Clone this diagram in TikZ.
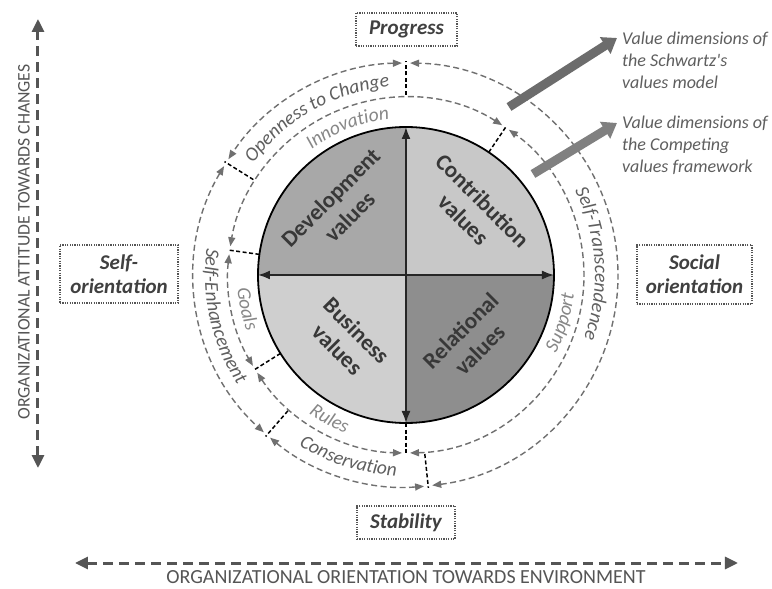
\documentclass[tikz,border=0pt]{standalone}
\usepackage{fontspec}
\setmainfont{Carlito}
\usepackage{xcolor}
\usepackage{tikz}
\usetikzlibrary{arrows.meta, decorations.text}
\definecolor{ringgray}{RGB}{112,112,112}
\definecolor{labeldark}{RGB}{95,95,95}
\definecolor{labellight}{RGB}{135,135,135}
\definecolor{boxtext}{RGB}{64,64,64}
\definecolor{axisgray}{RGB}{85,85,85}
\definecolor{devfill}{RGB}{168,168,168}
\definecolor{confill}{RGB}{200,200,200}
\definecolor{busfill}{RGB}{207,207,207}
\definecolor{relfill}{RGB}{142,142,142}
\definecolor{schwartzarrow}{RGB}{108,108,108}
\definecolor{cvfarrow}{RGB}{128,128,128}
\tikzset{
    ring/.style={draw=ringgray, line width=1.4pt, dash pattern=on 6pt off 3.5pt, <->, >={Triangle[length=9pt, width=7pt]}},
    divider/.style={draw=black, line width=1.5pt, dash pattern=on 4pt off 2.5pt},
    crossarrow/.style={draw=black!85, line width=1.8pt, <->, >={Latex[length=12pt, width=9pt]}},
    axis/.style={draw=axisgray, line width=3pt, dash pattern=on 10pt off 6pt, <->, >={Triangle[length=13pt, width=12pt]}},
    axislabel/.style={text=axisgray, font=\fontsize{20}{22}\selectfont},
    dimbox/.style={rectangle, draw=axisgray, line width=1.2pt, dash pattern=on 1.2pt off 1.2pt, text=boxtext, font=\bfseries\itshape\fontsize{21}{24}\selectfont, align=center, inner sep=0pt},
    quadlabel/.style={text=black!78, font=\bfseries\fontsize{23}{27}\selectfont, align=center},
    legendtext/.style={text=labeldark, font=\itshape\fontsize{18}{22}\selectfont, align=left, anchor=west, inner sep=0pt},
    legendarrow/.style={line width=9pt, -{Triangle[length=14pt, width=19pt]}},
    outerlabel/.style={decorate, decoration={text along path, text align=center, text color=labeldark, text={|\itshape\fontsize{19.5}{20}\selectfont|#1}}},
    innerlabel/.style={decorate, decoration={text along path, text align=center, text color=labellight, text={|\itshape\fontsize{19.5}{20}\selectfont|#1}}}
}
\begin{document}
\begin{tikzpicture}[x=1pt, y=1pt]
    \useasboundingbox (-406,-314) rectangle (366,275);
    \fill[white] (-406,-314) rectangle (366,275);

    % Quadrants of the value circle
    \fill[devfill] (0,0) -- (90:148) arc[start angle=90, end angle=180, radius=148pt] -- cycle;
    \fill[confill] (0,0) -- (0:148) arc[start angle=0, end angle=90, radius=148pt] -- cycle;
    \fill[busfill] (0,0) -- (180:148) arc[start angle=180, end angle=270, radius=148pt] -- cycle;
    \fill[relfill] (0,0) -- (270:148) arc[start angle=270, end angle=360, radius=148pt] -- cycle;
    \node[circle, draw, line width=1.8pt, minimum size=296pt, inner sep=0pt, outer sep=0pt] (disc) at (0,0) {};

    % Cross arrows
    \draw[crossarrow] (disc.north) -- (disc.south);
    \draw[crossarrow] (disc.west) -- (disc.east);

    % Quadrant labels
    \node[quadlabel, rotate=45] (dev) at (-66,68) {Development\\values};
    \node[quadlabel, rotate=-45] (con) at (67,65) {Contribution\\values};
    \node[quadlabel, rotate=-45] (bus) at (-59,-65) {Business\\values};
    \node[quadlabel, rotate=45] (rel) at (64,-65) {Relational\\values};

    % Competing values ring
    \draw[ring] (57.3:178) arc[start angle=57.3, end angle=170.7, radius=178pt];
    \draw[ring] (173.3:178) arc[start angle=173.3, end angle=210.7, radius=178pt];
    \draw[ring] (213.3:178) arc[start angle=213.3, end angle=268.7, radius=178pt];
    \draw[ring] (-88.7:178) arc[start angle=-88.7, end angle=54.7, radius=178pt];

    % Schwartz ring
    \draw[ring] (91.1:212) arc[start angle=91.1, end angle=146.9, radius=212pt];
    \draw[ring] (149.1:212) arc[start angle=149.1, end angle=227.9, radius=212pt];
    \draw[ring] (230.1:212) arc[start angle=230.1, end angle=274.9, radius=212pt];
    \draw[ring] (-82.9:212) arc[start angle=-82.9, end angle=88.9, radius=212pt];

    % Dividers
    \coordinate (cvf-ne) at (56:179);
    \coordinate (cvf-w) at (172:179);
    \coordinate (cvf-sw) at (212:179);
    \coordinate (cvf-s) at (270:179);
    \draw[divider] (disc.56) -- (cvf-ne);
    \draw[divider] (disc.172) -- (cvf-w);
    \draw[divider] (disc.212) -- (cvf-sw);
    \draw[divider] (disc.270) -- (cvf-s);
    \coordinate (sv-n-in) at (90:180);   \coordinate (sv-n-out) at (90:214);
    \coordinate (sv-nw-in) at (148:180); \coordinate (sv-nw-out) at (148:214);
    \coordinate (sv-sw-in) at (229:180); \coordinate (sv-sw-out) at (229:214);
    \coordinate (sv-s-in) at (276:180);  \coordinate (sv-s-out) at (276:214);
    \draw[divider] (sv-n-in) -- (sv-n-out);
    \draw[divider] (sv-nw-in) -- (sv-nw-out);
    \draw[divider] (sv-sw-in) -- (sv-sw-out);
    \draw[divider] (sv-s-in) -- (sv-s-out);

    % Ring labels
    \path[outerlabel={Openness to Change}] (150:189) arc[start angle=150, end angle=89, radius=189pt];
    \path[outerlabel={Self-Transcendence}] (33.5:189) arc[start angle=33.5, end angle=-26.5, radius=189pt];
    \path[outerlabel={Self-Enhancement}] (162.7:201) arc[start angle=162.7, end angle=222.7, radius=201pt];
    \path[outerlabel={Conservation}] (222.5:201) arc[start angle=222.5, end angle=282.5, radius=201pt];
    \path[innerlabel={Innovation}] (141.5:157) arc[start angle=141.5, end angle=81.5, radius=157pt];
    \path[innerlabel={Support}] (-47:169) arc[start angle=-47, end angle=13, radius=169pt];
    \path[innerlabel={Goals}] (162:169) arc[start angle=162, end angle=222, radius=169pt];
    \path[innerlabel={Rules}] (212:169) arc[start angle=212, end angle=272, radius=169pt];

    % Orientation boxes
    \node[dimbox, minimum width=101pt, minimum height=33pt] (progress) at (0.5,245.5) {Progress};
    \node[dimbox, minimum width=98pt, minimum height=33pt] (stability) at (0,-247.5) {Stability};
    \node[dimbox, minimum width=118pt, minimum height=58pt] (selfor) at (-287,1) {Self-\\orientation};
    \node[dimbox, minimum width=115pt, minimum height=59pt] (socialor) at (288.5,0.5) {Social\\orientation};

    % Outer axes
    \coordinate (att-top) at (-368,256);
    \coordinate (att-bot) at (-368,-193);
    \draw[axis] (att-bot) -- (att-top);
    \node[axislabel, rotate=90, font=\fontsize{17.7}{20}\selectfont] (att-label) at (-382,33) {ORGANIZATIONAL ATTITUDE TOWARDS CHANGES};
    \coordinate (env-left) at (-331,-288);
    \coordinate (env-right) at (332,-288);
    \draw[axis] (env-left) -- (env-right);
    \node[axislabel] (env-label) at (0,-302) {ORGANIZATIONAL ORIENTATION TOWARDS ENVIRONMENT};

    % Legend
    \coordinate (sw-tail) at (103,168);
    \coordinate (sw-head) at (211,237);
    \draw[legendarrow, schwartzarrow] (sw-tail) -- (sw-head);
    \node[legendtext] (sw-text) at (216,215) {Value dimensions of\\the Schwartz\textquotesingle s\\values model};
    \coordinate (cvf-tail) at (127,101);
    \coordinate (cvf-head) at (211,152);
    \draw[legendarrow, cvfarrow] (cvf-tail) -- (cvf-head);
    \node[legendtext] (cvf-text) at (216,130) {Value dimensions of\\the Competing\\values framework};
\end{tikzpicture}
\end{document}
